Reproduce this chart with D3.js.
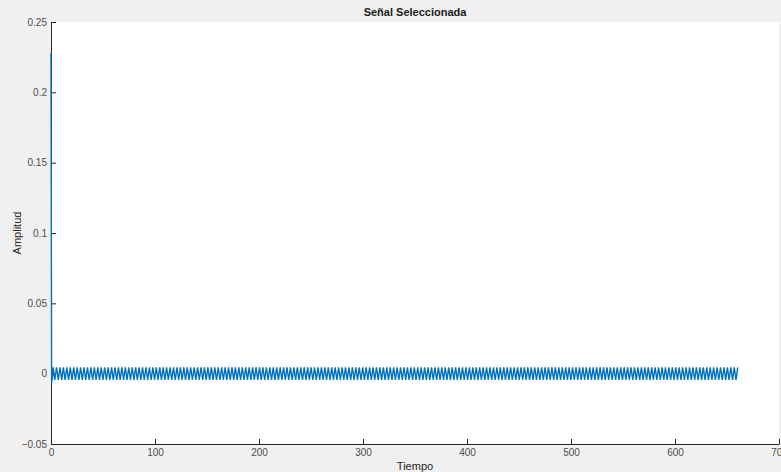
<!DOCTYPE html>
<html>
<head>
	<meta charset="UTF-8">
	<title>Señal Seleccionada</title>
	<script src="https://d3js.org/d3.v7.min.js"></script>
	<style>
		body { margin: 0; background: #f0f0f0; }
		text { font-family: "Liberation Sans", Arial, sans-serif; }
	</style>
</head>
<body>
	<script>
		// axis ticks
		var xTicks = [0, 100, 200, 300, 400, 500, 600, 700];
		var yTicks = [-0.05, 0, 0.05, 0.1, 0.15, 0.2, 0.25];

		// start of the signal: spike at t=0, then a small dip
		var startTimes = [0, 0.6, 1.5];
		var startValues = [0.228, -0.0065, -0.002];

		// steady oscillation after the spike (read as alternating peaks, one every half period)
		var oscStart = 2.0;
		var oscHalfPeriod = 1.654;
		var oscValues = [
			0.0045,-0.0045,0.0045,-0.0045,0.0045,-0.0045,0.0045,-0.0045,0.0045,-0.0045,0.0045,-0.0045,0.0045,-0.0045,0.0045,-0.0045,0.0045,-0.0045,0.0045,-0.0045,
			0.0045,-0.0045,0.0045,-0.0045,0.0045,-0.0045,0.0045,-0.0045,0.0045,-0.0045,0.0045,-0.0045,0.0045,-0.0045,0.0045,-0.0045,0.0045,-0.0045,0.0045,-0.0045,
			0.0045,-0.0045,0.0045,-0.0045,0.0045,-0.0045,0.0045,-0.0045,0.0045,-0.0045,0.0045,-0.0045,0.0045,-0.0045,0.0045,-0.0045,0.0045,-0.0045,0.0045,-0.0045,
			0.0045,-0.0045,0.0045,-0.0045,0.0045,-0.0045,0.0045,-0.0045,0.0045,-0.0045,0.0045,-0.0045,0.0045,-0.0045,0.0045,-0.0045,0.0045,-0.0045,0.0045,-0.0045,
			0.0045,-0.0045,0.0045,-0.0045,0.0045,-0.0045,0.0045,-0.0045,0.0045,-0.0045,0.0045,-0.0045,0.0045,-0.0045,0.0045,-0.0045,0.0045,-0.0045,0.0045,-0.0045,
			0.0045,-0.0045,0.0045,-0.0045,0.0045,-0.0045,0.0045,-0.0045,0.0045,-0.0045,0.0045,-0.0045,0.0045,-0.0045,0.0045,-0.0045,0.0045,-0.0045,0.0045,-0.0045,
			0.0045,-0.0045,0.0045,-0.0045,0.0045,-0.0045,0.0045,-0.0045,0.0045,-0.0045,0.0045,-0.0045,0.0045,-0.0045,0.0045,-0.0045,0.0045,-0.0045,0.0045,-0.0045,
			0.0045,-0.0045,0.0045,-0.0045,0.0045,-0.0045,0.0045,-0.0045,0.0045,-0.0045,0.0045,-0.0045,0.0045,-0.0045,0.0045,-0.0045,0.0045,-0.0045,0.0045,-0.0045,
			0.0045,-0.0045,0.0045,-0.0045,0.0045,-0.0045,0.0045,-0.0045,0.0045,-0.0045,0.0045,-0.0045,0.0045,-0.0045,0.0045,-0.0045,0.0045,-0.0045,0.0045,-0.0045,
			0.0045,-0.0045,0.0045,-0.0045,0.0045,-0.0045,0.0045,-0.0045,0.0045,-0.0045,0.0045,-0.0045,0.0045,-0.0045,0.0045,-0.0045,0.0045,-0.0045,0.0045,-0.0045,
			0.0045,-0.0045,0.0045,-0.0045,0.0045,-0.0045,0.0045,-0.0045,0.0045,-0.0045,0.0045,-0.0045,0.0045,-0.0045,0.0045,-0.0045,0.0045,-0.0045,0.0045,-0.0045,
			0.0045,-0.0045,0.0045,-0.0045,0.0045,-0.0045,0.0045,-0.0045,0.0045,-0.0045,0.0045,-0.0045,0.0045,-0.0045,0.0045,-0.0045,0.0045,-0.0045,0.0045,-0.0045,
			0.0045,-0.0045,0.0045,-0.0045,0.0045,-0.0045,0.0045,-0.0045,0.0045,-0.0045,0.0045,-0.0045,0.0045,-0.0045,0.0045,-0.0045,0.0045,-0.0045,0.0045,-0.0045,
			0.0045,-0.0045,0.0045,-0.0045,0.0045,-0.0045,0.0045,-0.0045,0.0045,-0.0045,0.0045,-0.0045,0.0045,-0.0045,0.0045,-0.0045,0.0045,-0.0045,0.0045,-0.0045,
			0.0045,-0.0045,0.0045,-0.0045,0.0045,-0.0045,0.0045,-0.0045,0.0045,-0.0045,0.0045,-0.0045,0.0045,-0.0045,0.0045,-0.0045,0.0045,-0.0045,0.0045,-0.0045,
			0.0045,-0.0045,0.0045,-0.0045,0.0045,-0.0045,0.0045,-0.0045,0.0045,-0.0045,0.0045,-0.0045,0.0045,-0.0045,0.0045,-0.0045,0.0045,-0.0045,0.0045,-0.0045,
			0.0045,-0.0045,0.0045,-0.0045,0.0045,-0.0045,0.0045,-0.0045,0.0045,-0.0045,0.0045,-0.0045,0.0045,-0.0045,0.0045,-0.0045,0.0045,-0.0045,0.0045,-0.0045,
			0.0045,-0.0045,0.0045,-0.0045,0.0045,-0.0045,0.0045,-0.0045,0.0045,-0.0045,0.0045,-0.0045,0.0045,-0.0045,0.0045,-0.0045,0.0045,-0.0045,0.0045,-0.0045,
			0.0045,-0.0045,0.0045,-0.0045,0.0045,-0.0045,0.0045,-0.0045,0.0045,-0.0045,0.0045,-0.0045,0.0045,-0.0045,0.0045,-0.0045,0.0045,-0.0045,0.0045,-0.0045,
			0.0045,-0.0045,0.0045,-0.0045,0.0045,-0.0045,0.0045,-0.0045,0.0045,-0.0045,0.0045,-0.0045,0.0045,-0.0045,0.0045,-0.0045,0.0045,-0.0045,0.0045
		];

		// size of the figure and position of the axes box
		var width = 781, height = 472;
		var margin = {top: 22, right: 2, bottom: 28, left: 51};
		var plotW = width - margin.left - margin.right,
			plotH = height - margin.top - margin.bottom;

		// join start segment and oscillation into one list of points
		var signal = [];
		for (var i = 0; i < startTimes.length; i++) {
			signal.push({t: startTimes[i], v: startValues[i]});
		}
		for (var j = 0; j < oscValues.length; j++) {
			signal.push({t: oscStart + j * oscHalfPeriod, v: oscValues[j]});
		}

		var svg = d3.select("body")
			.append("svg")
				.attr("width", width)
				.attr("height", height);

		svg.append("rect")
			.attr("width", width)
			.attr("height", height)
			.attr("fill", "#f0f0f0");

		var g = svg.append("g")
			.attr("transform", "translate(" + margin.left + "," + margin.top + ")");

		// white axes background
		g.append("rect")
			.attr("width", plotW)
			.attr("height", plotH)
			.attr("fill", "white");

		var x = d3.scaleLinear().domain([0, 700]).range([0, plotW]);
		var y = d3.scaleLinear().domain([-0.05, 0.25]).range([plotH, 0]);

		var fmt = function(d) { return d3.format("~g")(d); };

		// x axis, ticks pointing inside
		var xAxis = g.append("g")
			.attr("transform", "translate(0," + plotH + ")")
			.call(d3.axisBottom(x).tickValues(xTicks).tickFormat(fmt).tickSizeInner(-5).tickSizeOuter(0).tickPadding(5));

		// y axis
		var yAxis = g.append("g")
			.call(d3.axisLeft(y).tickValues(yTicks).tickFormat(fmt).tickSizeInner(-5).tickSizeOuter(0).tickPadding(4));

		[xAxis, yAxis].forEach(function(a) {
			a.select(".domain").attr("stroke", "#262626").attr("stroke-width", 1);
			a.selectAll(".tick line").attr("stroke", "#262626");
			a.selectAll(".tick text")
				.attr("fill", "#4d4d4d")
				.attr("font-size", 10)
				.style("font-family", "Liberation Sans, Arial, sans-serif");
		});

		// the signal
		var line = d3.line()
			.x(function(d) { return x(d.t); })
			.y(function(d) { return y(d.v); });

		g.append("path")
			.datum(signal)
			.attr("d", line)
			.attr("fill", "none")
			.attr("stroke", "#0072bd")
			.attr("stroke-width", 1.4);

		// title and labels
		svg.append("text")
			.attr("x", margin.left + plotW / 2)
			.attr("y", 16)
			.attr("text-anchor", "middle")
			.attr("font-size", 11)
			.attr("font-weight", "bold")
			.attr("fill", "#1a1a1a")
			.text("Señal Seleccionada");

		svg.append("text")
			.attr("x", margin.left + plotW / 2)
			.attr("y", 470)
			.attr("text-anchor", "middle")
			.attr("font-size", 11)
			.attr("fill", "#262626")
			.text("Tiempo");

		svg.append("text")
			.attr("transform", "translate(21," + (margin.top + plotH / 2) + ") rotate(-90)")
			.attr("text-anchor", "middle")
			.attr("font-size", 11)
			.attr("fill", "#262626")
			.text("Amplitud");
	</script>
</body>
</html>
